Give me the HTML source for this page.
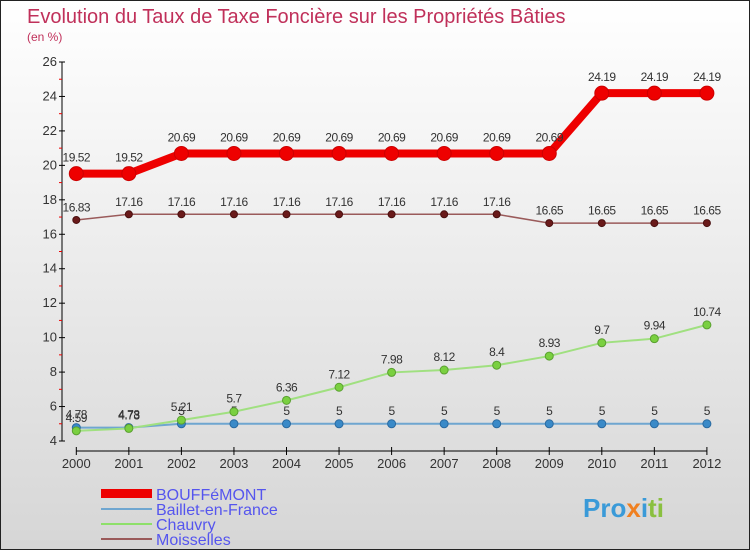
<!DOCTYPE html>
<html><head><meta charset="utf-8"><style>
body{margin:0}
#c{width:750px;height:550px;position:relative;background:linear-gradient(#ffffff,#d6d6d6);box-sizing:border-box;border:1px solid #222;font-family:"Liberation Sans",sans-serif}
text{font-family:"Liberation Sans",sans-serif}
</style></head><body>
<div id="c">
<svg width="750" height="550" id="s">
<text x="26" y="22" font-size="20" fill="#c0305a">Evolution du Taux de Taxe Foncière sur les Propriétés Bâties</text>
<text x="26" y="40" font-size="12" fill="#c0305a">(en %)</text>
<g id="ax"></g><g id="ser"></g>
<g>
<rect x="100" y="488" width="51" height="9" fill="#e00"/>
<line x1="100" y1="508" x2="151" y2="508" stroke="#6fa6d0" stroke-width="2"/>
<line x1="100" y1="523" x2="151" y2="523" stroke="#8ee06a" stroke-width="2"/>
<line x1="100" y1="538" x2="151" y2="538" stroke="#9a5a5a" stroke-width="2"/>
<text x="155" y="499" font-size="16" fill="#5555ee">BOUFFéMONT</text>
<text x="155" y="514" font-size="16" fill="#5555ee">Baillet-en-France</text>
<text x="155" y="529" font-size="16" fill="#5555ee">Chauvry</text>
<text x="155" y="544" font-size="16" fill="#5555ee">Moisselles</text>
</g>
<text x="582" y="516" font-size="26" font-weight="bold" fill="#3a9ad8">Pro<tspan fill="#f08020">x</tspan>i<tspan fill="#8ac040">ti</tspan></text>
</svg></div>
<script>
const years=["2000","2001","2002","2003","2004","2005","2006","2007","2008","2009","2010","2011","2012"];
const bouffemont=[19.52,19.52,20.69,20.69,20.69,20.69,20.69,20.69,20.69,20.69,24.19,24.19,24.19];
const baillet=[4.78,4.78,5,5,5,5,5,5,5,5,5,5,5];
const chauvry=[4.59,4.73,5.21,5.7,6.36,7.12,7.98,8.12,8.4,8.93,9.7,9.94,10.74];
const moisselles=[16.83,17.16,17.16,17.16,17.16,17.16,17.16,17.16,17.16,16.65,16.65,16.65,16.65];
const yTicks=[4,6,8,10,12,14,16,18,20,22,24,26];
const NS="http://www.w3.org/2000/svg";
function X(i){return 75.3+i*52.55;}
function Y(v){return 440-(v-4)*(379/22);}
function el(t,a,p){const e=document.createElementNS(NS,t);for(const k in a)e.setAttribute(k,a[k]);p.appendChild(e);return e;}
const ax=document.getElementById('ax'),ser=document.getElementById('ser');
const yl=el('line',{x1:61,y1:Y(26),x2:61,y2:Y(4),stroke:'#000'},ax);


yTicks.forEach(v=>{
 el('line',{x1:58,x2:64,y1:Y(v),y2:Y(v),stroke:'#000'},ax);
 if(v<26) el('line',{x1:58,x2:61,y1:Y(v+1),y2:Y(v+1),stroke:'#e00'},ax);
 const t=el('text',{x:56,y:Y(v)+4,'font-size':13,'text-anchor':'end',fill:'#333'},ax);t.textContent=v;
 
 
});
const xl=el('line',{x1:X(0),y1:450,x2:X(12),y2:450,stroke:'#000'},ax);


years.forEach((y,i)=>{
 el('line',{x1:X(i),x2:X(i),y1:446,y2:454,stroke:'#000'},ax);
 const t=el('text',{x:X(i),y:467,'font-size':13,'text-anchor':'middle',fill:'#333'},ax);t.textContent=y;
 
 
});
function series(name,vals,col,w,r,dot,dotStroke){
 const g=el('g',{},ser);
 
 
 el('polyline',{points:vals.map((v,i)=>X(i)+','+Y(v)).join(' '),fill:'none',stroke:col,'stroke-width':w},g);
 vals.forEach((v,i)=>{
  const c=el('circle',{cx:X(i),cy:Y(v),r:r,fill:dot,stroke:dotStroke,'stroke-width':1},g);
  
  
  const t=el('text',{x:X(i),y:Y(v)-(r+5),'font-size':12,'text-anchor':'middle',fill:'#333','letter-spacing':'-0.5'},g);
  t.textContent=String(v);
  
  
 });
}
series('moisselles',moisselles,'#9a5a5a',1.5,3.5,'#6a1a1a','#4a1010');
series('baillet',baillet,'#6fa6d0',2,4,'#3a8ac8','#2a6aa0');
series('chauvry',chauvry,'#a0e080',2,4,'#7ad040','#5aa030');
series('bouffemont',bouffemont,'#e00',8,7,'#e00','#c00');
</script>
</body></html>
